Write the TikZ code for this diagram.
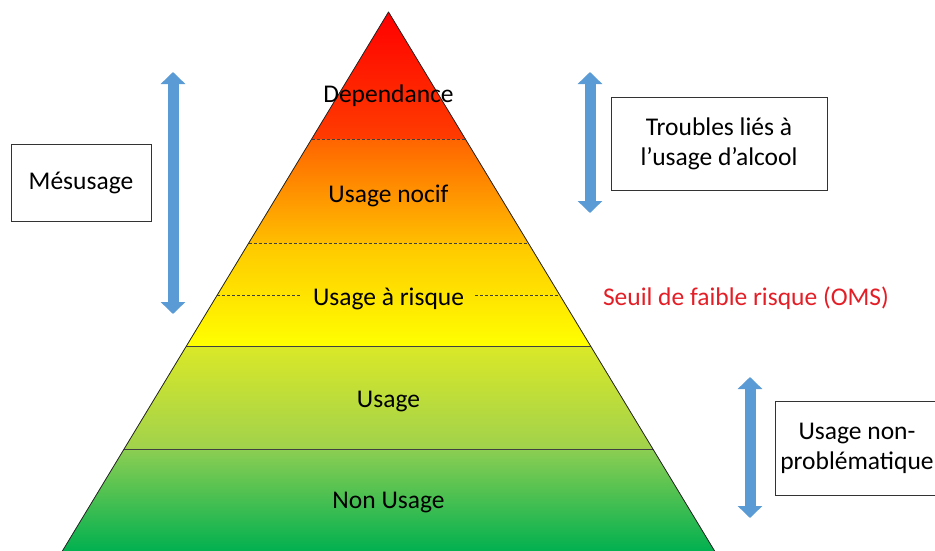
\documentclass[tikz,border=0pt]{standalone}
\usepackage{fontspec}
\setmainfont{Carlito}
\usetikzlibrary{arrows.meta,positioning,calc}

\definecolor{pRed}{RGB}{255,0,0}
\definecolor{pRedOr}{RGB}{255,60,0}
\definecolor{pOr}{RGB}{255,100,0}
\definecolor{pOrYel}{RGB}{255,190,0}
\definecolor{pYelOr}{RGB}{255,200,0}
\definecolor{pYel}{RGB}{255,255,0}
\definecolor{pYelGr}{RGB}{218,232,40}
\definecolor{pLGr}{RGB}{160,210,76}
\definecolor{pGrL}{RGB}{140,206,82}
\definecolor{pGr}{RGB}{0,176,80}
\definecolor{arrowBlue}{RGB}{91,155,213}
\definecolor{seuilRed}{RGB}{228,30,38}

\tikzset{
  lbl/.style={font=\fontsize{25.5}{30}\selectfont, text=black, inner ysep=0pt, inner xsep=11pt, yshift=-2pt},
  sidebox/.style={draw=black!80, line width=0.9pt, font=\fontsize{25.5}{30}\selectfont, align=center, inner sep=0pt},
  dblarrow/.style={draw=arrowBlue, line width=11pt, {Triangle[width=24pt,length=12pt]}-{Triangle[width=24pt,length=12pt]}},
  sep/.style={draw=black!75, line width=0.6pt},
  sepdash/.style={sep, dash pattern=on 3pt off 2pt},
  edge/.style={draw=black!85, line width=0.8pt, line join=round}
}

\begin{document}
\begin{tikzpicture}[x=1pt,y=-1pt]
  \useasboundingbox (0,0) rectangle (935,550);

	\def\cx{388.5};
	\def\k{0.60502};  % half width / height
	\def\ay{12};

	%bands
    \foreach \yt/\yb/\ct/\cb in {12/139/pRed/pRedOr,139/243/pOr/pOrYel,243/346/pYelOr/pYel,346/449/pYelGr/pLGr,449/552/pGrL/pGr}{
       \fill[top color=\ct, bottom color=\cb] ({\cx-\k*(\yt-\ay)},\yt) -- ({\cx+\k*(\yt-\ay)},\yt) -- ({\cx+\k*(\yb-\ay)},\yb) -- ({\cx-\k*(\yb-\ay)},\yb) -- cycle;
    }

    \foreach \y/\s in {139/sepdash,243/sepdash,346/sep,449/sep}{
       \draw[\s] ({\cx-\k*(\y-\ay)},\y) -- ({\cx+\k*(\y-\ay)},\y);
    }

	%outline
    \coordinate (apex) at (\cx,\ay);
    \coordinate (bl) at ({\cx-\k*(552-\ay)},552);
    \coordinate (br) at ({\cx+\k*(552-\ay)},552);
    \draw[edge] (bl) -- (apex) -- (br);

	%labels
    \foreach \y/\txt/\name in {94/Dependance/dep,194/Usage nocif/noc,297/Usage à risque/ris,400/Usage/usa,501/Non Usage/non}{
       \node[lbl] (\name) at (\cx,\y) {\txt};
    }

    \coordinate (rl) at ({\cx-\k*(295-\ay)},295);
    \coordinate (rr) at ({\cx+\k*(295-\ay)},295);
    \draw[sepdash] (rl) -- (rl -| ris.west);
    \draw[sepdash] (rr -| ris.east) -- (rr);

    \node[lbl] (seuil) at (746,296) {\color{seuilRed}Seuil de faible risque (OMS)};

	%boxes
    \node[sidebox, minimum width=140pt, minimum height=77pt] (mes) at (81,182.5) {Mésusage};
    \node[sidebox, minimum width=216pt, minimum height=93pt] (trb) at (719,143.5) {Troubles liés à\\l’usage d’alcool};
    \node[sidebox, minimum width=164pt, minimum height=94pt] (unp) at (857,448) {Usage non-\\problématique};

	%arrows
    \foreach \x/\yu/\yd/\n in {173/72/314/m,590/72/213/t,750/377/518/u}{
       \coordinate (\n1) at (\x,\yu);
       \coordinate (\n2) at (\x,\yd);
       \draw[dblarrow] (\n1) -- (\n2);
    }

\end{tikzpicture}
\end{document}
